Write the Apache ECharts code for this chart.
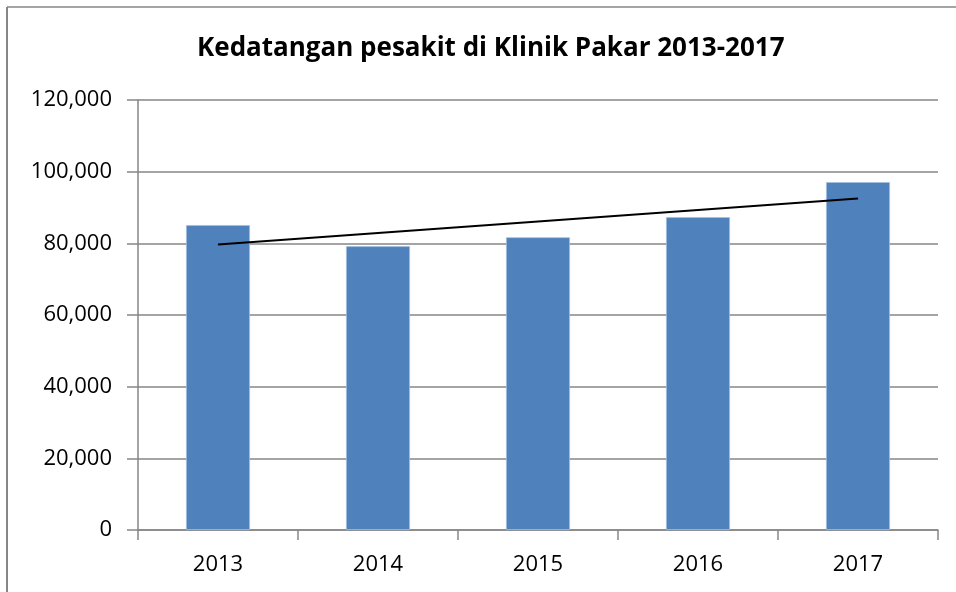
<!DOCTYPE html>
<html><head><meta charset="utf-8">
<script src="https://cdn.jsdelivr.net/npm/echarts@6/dist/echarts.min.js"></script>
<style>html,body{margin:0;padding:0;background:#fff}#c{width:956px;height:592px}</style>
</head><body><div id="c"></div>
<script>
const categories = ['2013','2014','2015','2016','2017'];
const visits = [85100, 79200, 81700, 87300, 97100];
const trendValues = [79700, null, null, null, 92500];
const yTicks = [0, 20000, 40000, 60000, 80000, 100000, 120000];
const titleText = 'Kedatangan pesakit di Klinik Pakar 2013-2017';

const chart = echarts.init(document.getElementById('c'));
chart.setOption({
  animation: false,
  backgroundColor: '#fff',
  graphic: [
    {type:'line', shape:{x1:7,y1:7,x2:956,y2:7}, style:{stroke:'#868686', lineWidth:1.5}, silent:true},
    {type:'line', shape:{x1:7,y1:7,x2:7,y2:592}, style:{stroke:'#868686', lineWidth:2}, silent:true}
  ],
  title: {text: titleText, left: 192, top: 31, textStyle:{fontFamily:'Open Sans', fontWeight:'bold', fontSize:26, color:'#000'}},
  grid: {left:138, right:18, top:100, bottom:62},
  xAxis: {type:'category', data: categories,
    axisLine:{lineStyle:{color:'#868686', width:1.5}},
    axisTick:{show:true, length:10, inside:false, alignWithLabel:false, lineStyle:{color:'#868686', width:1.5}},
    axisLabel:{fontFamily:'Open Sans', fontSize:22, color:'#000', margin:24}},
  yAxis: {type:'value', min:yTicks[0], max:yTicks[yTicks.length-1], interval:20000,
    axisLine:{show:true, lineStyle:{color:'#868686', width:1.5}},
    axisTick:{show:true, length:11, lineStyle:{color:'#868686', width:1.5}},
    splitLine:{lineStyle:{color:'#868686', width:1.5}},
    axisLabel:{fontFamily:'Open Sans', fontSize:22, color:'#000', margin:26,
      formatter: v => v.toLocaleString('en-US')}},
  series: [
    {type:'bar', data: visits, barWidth:'40%', itemStyle:{color:'#4F81BD', borderColor:'#a7bfde', borderWidth:0.8}},
    {type:'line', data: trendValues, connectNulls:true, symbol:'none', lineStyle:{color:'#000', width:2}, z:5}
  ]
});
</script></body></html>
